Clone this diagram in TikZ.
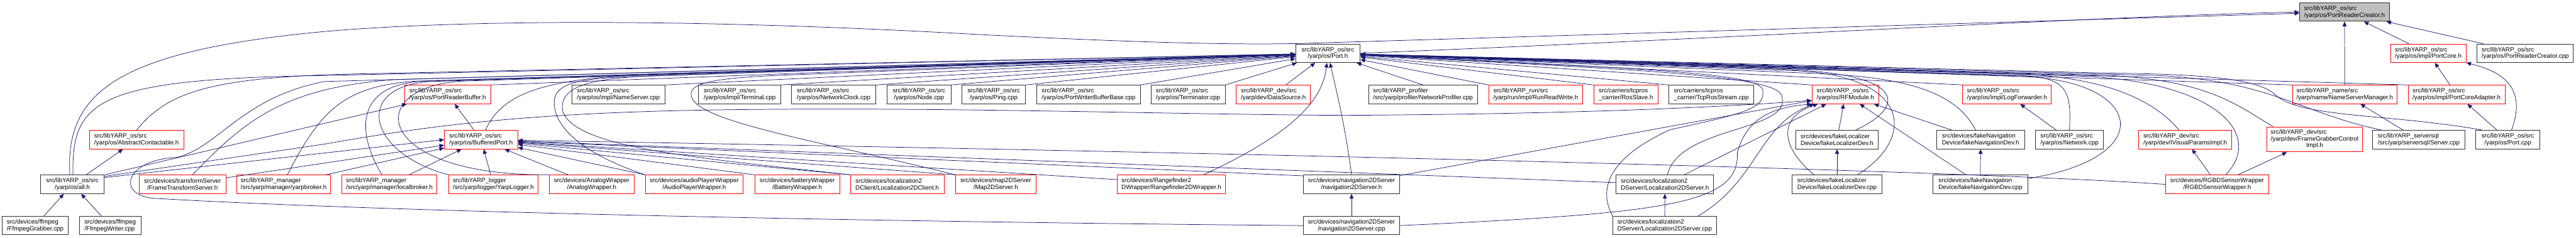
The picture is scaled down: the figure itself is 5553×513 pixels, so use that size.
\documentclass[tikz,border=0pt]{standalone}
\usepackage{fontspec}
\setmainfont{Liberation Sans}
\usepackage{tikz}
\usetikzlibrary{arrows.meta}
\definecolor{edgeblue}{RGB}{25,25,112}
\definecolor{boxred}{RGB}{255,0,0}
\definecolor{boxgrey}{RGB}{191,191,191}
\definecolor{boxdark}{RGB}{48,48,48}

\begin{document}
\begin{tikzpicture}[x=0.75pt, y=-0.75pt, >={Triangle[length=7.5pt,width=6.5pt]},
    file/.style={draw, rectangle, inner sep=0pt, line width=1pt,
          minimum height=30pt, minimum width=#1*0.75pt,
          font=\fontsize{10}{10.8}\selectfont},
    blkfile/.style={file=#1, draw=boxdark},
    redfile/.style={file=#1, draw=boxred},
    rootfile/.style={file=#1, draw=boxdark, fill=boxgrey},
    dep/.style={draw=edgeblue, line width=0.75pt, ->}]
  \useasboundingbox (0,0) rectangle (5553,513);

  % row 0
  \node[rootfile=194, align=left] (prch) at (5054,26) {src/libYARP\_os/src\\/yarp/os/PortReaderCreator.h};
  % row 1
  \node[blkfile=139, align=center] (porth) at (2862.5,115) {src/libYARP\_os/src\\/yarp/os/Port.h};
  \node[redfile=163, align=left] (portcoreh) at (5234.5,115) {src/libYARP\_os/src\\/yarp/os/impl/PortCore.h};
  \node[blkfile=207, align=left] (prccpp) at (5443.5,115) {src/libYARP\_os/src\\/yarp/os/PortReaderCreator.cpp};
  % row 2
  \node[redfile=186, align=left] (prbuf) at (965,204) {src/libYARP\_os/src\\/yarp/os/PortReaderBuffer.h};
  \node[blkfile=200, align=left] (nscpp) at (1333,204) {src/libYARP\_os/src\\/yarp/os/impl/NameServer.cpp};
  \node[blkfile=177, align=left] (termcpp) at (1594.5,204) {src/libYARP\_os/src\\/yarp/os/impl/Terminal.cpp};
  \node[blkfile=182, align=left] (nclock) at (1797,204) {src/libYARP\_os/src\\/yarp/os/NetworkClock.cpp};
  \node[blkfile=138, align=center] (nodecpp) at (1981,204) {src/libYARP\_os/src\\/yarp/os/Node.cpp};
  \node[blkfile=138, align=center] (pingcpp) at (2142,204) {src/libYARP\_os/src\\/yarp/os/Ping.cpp};
  \node[blkfile=223, align=left] (pwbb) at (2346.5,204) {src/libYARP\_os/src\\/yarp/os/PortWriterBufferBase.cpp};
  \node[blkfile=160, align=left] (termin) at (2561,204) {src/libYARP\_os/src\\/yarp/os/Terminator.cpp};
  \node[redfile=160, align=left] (datasrc) at (2745,204) {src/libYARP\_dev/src\\/yarp/dev/DataSource.h};
  \node[blkfile=235, align=left] (netprof) at (3067.5,204) {src/libYARP\_profiler\\/src/yarp/profiler/NetworkProfiler.cpp};
  \node[redfile=203, align=left] (runrw) at (3310.5,204) {src/libYARP\_run/src\\/yarp/run/impl/RunReadWrite.h};
  \node[redfile=138, align=left] (rosslave) at (3505,204) {src/carriers/tcpros\\\_carrier/RosSlave.h};
  \node[blkfile=184, align=left] (tcpros) at (3689,204) {src/carriers/tcpros\\\_carrier/TcpRosStream.cpp};
  \node[redfile=144, align=left] (rfmod) at (3978,204) {src/libYARP\_os/src\\/yarp/os/RFModule.h};
  \node[redfile=191, align=left] (logfwd) at (4326.5,204) {src/libYARP\_os/src\\/yarp/os/impl/LogForwarder.h};
  \node[redfile=225, align=left] (nsmgr) at (5054.5,204) {src/libYARP\_name/src\\/yarp/name/NameServerManager.h};
  \node[redfile=209, align=left] (pcadapt) at (5295.5,204) {src/libYARP\_os/src\\/yarp/os/impl/PortCoreAdapter.h};
  % row 3
  \node[redfile=203, align=left] (abscont) at (294.5,301.5) {src/libYARP\_os/src\\/yarp/os/AbstractContactable.h};
  \node[redfile=158, align=left] (bufport) at (1037,301.5) {src/libYARP\_os/src\\/yarp/os/BufferedPort.h};
  \node[blkfile=178, align=left] (flocdevh) at (3960,301.5) {src/devices/fakeLocalizer\\Device/fakeLocalizerDev.h};
  \node[blkfile=189, align=left] (fnavdevh) at (4269.5,301.5) {src/devices/fakeNavigation\\Device/fakeNavigationDev.h};
  \node[blkfile=146, align=left] (netcpp) at (4461,301.5) {src/libYARP\_os/src\\/yarp/os/Network.cpp};
  \node[redfile=201, align=left] (ivis) at (4710.5,301.5) {src/libYARP\_dev/src\\/yarp/dev/IVisualParamsImpl.h};
  \node[redfile=205, minimum height=40.5pt] (fgci) at (4989.5,301) {\begin{tabular}{@{}l@{}}src/libYARP\_dev/src\\/yarp/dev/FrameGrabberControl\\\multicolumn{1}{@{}c@{}}{Impl.h}\end{tabular}};
  \node[blkfile=198, align=left] (servercpp) at (5214,301.5) {src/libYARP\_serversql\\/src/yarp/serversql/Server.cpp};
  \node[blkfile=138, align=center] (portcpp) at (5406,301.5) {src/libYARP\_os/src\\/yarp/os/Port.cpp};
  % row 4
  \node[blkfile=138, align=center] (allh) at (156,398) {src/libYARP\_os/src\\/yarp/os/all.h};
  \node[redfile=187, align=center] (fts) at (393.5,398) {src/devices/transformServer\\/FrameTransformServer.h};
  \node[redfile=203, align=left] (yarpbroker) at (611.5,398) {src/libYARP\_manager\\/src/yarp/manager/yarpbroker.h};
  \node[redfile=205, align=left] (localbroker) at (839.5,398) {src/libYARP\_manager\\/src/yarp/manager/localbroker.h};
  \node[redfile=193, align=left] (yarplogger) at (1063.5,398) {src/libYARP\_logger\\/src/yarp/logger/YarpLogger.h};
  \node[redfile=183, align=center] (analogw) at (1275.5,398) {src/devices/AnalogWrapper\\/AnalogWrapper.h};
  \node[redfile=211, align=center] (audiow) at (1496.5,398) {src/devices/audioPlayerWrapper\\/AudioPlayerWrapper.h};
  \node[redfile=183, align=center] (batteryw) at (1718.5,398) {src/devices/batteryWrapper\\/BatteryWrapper.h};
  \node[redfile=202, align=left] (loc2dclient) at (1934,398) {src/devices/localization2\\DClient/Localization2DClient.h};
  \node[redfile=173, align=center] (map2d) at (2146.5,398) {src/devices/map2DServer\\/Map2DServer.h};
  \node[redfile=232, align=left] (rangefinder) at (2525,398) {src/devices/Rangefinder2\\DWrapper/Rangefinder2DWrapper.h};
  \node[blkfile=207, align=center] (nav2dh) at (2913.5,398) {src/devices/navigation2DServer\\/navigation2DServer.h};
  \node[blkfile=210, align=left] (loc2dserverh) at (3589,398) {src/devices/localization2\\DServer/Localization2DServer.h};
  \node[blkfile=194, align=left] (flocdevcpp) at (3960,398) {src/devices/fakeLocalizer\\Device/fakeLocalizerDev.cpp};
  \node[blkfile=204, align=left] (fnavdevcpp) at (4269,398) {src/devices/fakeNavigation\\Device/fakeNavigationDev.cpp};
  \node[redfile=223, align=center] (rgbd) at (4779.5,398) {src/devices/RGBDSensorWrapper\\/RGBDSensorWrapper.h};
  % row 5
  \node[blkfile=142, align=left] (ffgrab) at (76,487) {src/devices/ffmpeg\\/FfmpegGrabber.cpp};
  \node[blkfile=133, align=left] (ffwrite) at (237.5,487) {src/devices/ffmpeg\\/FfmpegWriter.cpp};
  \node[blkfile=207, align=center] (nav2dcpp) at (2913.5,487) {src/devices/navigation2DServer\\/navigation2DServer.cpp};
  \node[blkfile=223, align=left] (loc2dservercpp) at (3588.5,487) {src/devices/localization2\\DServer/Localization2DServer.cpp};

  % short includes
  \foreach \s/\t in {ffgrab/allh, ffwrite/allh, allh/abscont, allh.north east/prbuf,
      allh.12/bufport.west, fts/bufport, yarpbroker/bufport, localbroker/bufport,
      yarplogger/bufport, analogw/bufport, audiow.north west/bufport,
      batteryw.north west/bufport, loc2dclient.north west/bufport,
      map2d.north west/bufport, rangefinder.175/bufport, nav2dh.170/bufport,
      loc2dserverh.178/bufport, bufport/prbuf,
      prbuf.north east/porth, nscpp.north east/porth, termcpp.north east/porth,
      nclock.north east/porth, nodecpp.north east/porth, pingcpp.north east/porth,
      pwbb.north east/porth, termin.north east/porth, netprof.north/porth,
      runrw.north west/porth, rosslave.north west/porth, tcpros.north west/porth,
      rfmod.north west/porth, logfwd.north west/porth, nsmgr.north west/porth,
      pcadapt.north west/porth,
      nsmgr/prch, portcoreh/prch, prccpp/prch, pcadapt/portcoreh, portcpp/pcadapt,
      servercpp/nsmgr, flocdevh/rfmod, fnavdevh/rfmod, fnavdevcpp/rfmod,
      loc2dserverh/rfmod, nav2dh/rfmod, netcpp/logfwd, rgbd/ivis, rgbd/fgci,
      flocdevcpp/flocdevh, fnavdevcpp/fnavdevh, nav2dcpp/nav2dh,
      loc2dservercpp/loc2dserverh}
    \draw[dep] (\s) -- (\t);

  % long ones into PortReaderCreator.h
  \draw[dep] (porth.east) .. controls (3800,80) and (4500,36) .. (prch.west);
  \draw[dep] ([xshift=-4pt]allh.north) .. controls (140,200) and (250,110) .. (700,68)
    .. controls (1000,42) and (1500,40) .. (2100,74) .. controls (2450,92) and (2650,97) .. (2800,94)
    -- ([yshift=-2pt]prch.west);

  % into Port.h from the left
  \draw[dep] ([xshift=1pt]allh.north) .. controls (155,220) and (200,170) .. (700,163) -- (porth);
  \draw[dep] (abscont.north) .. controls (360,200) and (450,168) .. (750,160) -- (porth);
  \draw[dep] ([xshift=16pt]fts.north) .. controls (520,270) and (600,190) .. (850,172) -- (porth);
  \draw[dep] ([xshift=6pt]yarpbroker.north) .. controls (690,240) and (740,185) .. (900,175) -- (porth);
  \draw[dep] ([xshift=-12pt]localbroker.north) .. controls (770,290) and (760,180) .. (920,175) -- (porth);
  \draw[dep] (yarplogger.north west) .. controls (790,330) and (760,185) .. (930,176) -- (porth);
  \draw[dep] (analogw.north west) .. controls (800,380) and (780,185) .. (1000,175) -- (porth);
  \draw[dep] (audiow.north west) .. controls (1250,330) and (1190,270) .. (1195,215)
    .. controls (1200,180) and (1250,170) .. (1350,166) -- (porth);
  \draw[dep] (loc2dclient.north west) .. controls (1500,340) and (1240,320) .. (1213,240)
    .. controls (1205,195) and (1250,170) .. (1400,164) -- (porth);
  \draw[dep] (map2d.north west) .. controls (1750,300) and (1480,260) .. (1490,200)
    .. controls (1495,175) and (1560,166) .. (1750,160) -- (porth);
  \draw[dep] ([xshift=7pt]bufport.north) .. controls (1080,210) and (1150,170) .. (1400,161) -- (porth);
  \draw[dep] (nav2dcpp.west) .. controls (1800,478) and (800,456) .. (330,428)
    .. controls (250,420) and (270,345) .. (380,340) .. controls (470,320) and (520,210) .. (700,176) -- (porth);
  \draw[dep] ([xshift=52pt]rangefinder.north) .. controls (2760,300) and (2850,230) .. (porth);
  \draw[dep] ([xshift=20pt]datasrc.north) -- (porth);
  \draw[dep] (nav2dh.north) .. controls (2898,260) and (2878,185) .. (porth);

  % into Port.h from the right
  \draw[dep] ([xshift=4pt]loc2dserverh.north) .. controls (3620,270) and (3870,285) .. (3840,205)
    .. controls (3820,160) and (3500,150) .. (porth);
  \draw[dep] (loc2dservercpp.north west) .. controls (3440,400) and (3480,335) .. (3600,280)
    .. controls (3760,245) and (3805,235) .. (3800,195) .. controls (3795,160) and (3600,150) .. (porth);
  \draw[dep] ([xshift=30pt]flocdevh.north) .. controls (4110,230) and (4110,160) .. (3850,150) -- (porth);
  \draw[dep] ([xshift=33pt]flocdevcpp.north) .. controls (4130,300) and (4125,158) .. (3850,152) -- (porth);
  \draw[dep] ([xshift=-8pt]fnavdevh.north) .. controls (4215,195) and (4100,165) .. (3900,158) -- (porth);
  \draw[dep] (netcpp.north) .. controls (4465,200) and (4460,165) .. (4350,163) -- (porth);
  \draw[dep] (fnavdevcpp.7) .. controls (4660,340) and (4620,170) .. (4350,165) -- (porth);
  \draw[dep] ([xshift=-10pt]ivis.north) .. controls (4630,200) and (4500,160) .. (4300,158) -- (porth);
  \draw[dep] ([xshift=14pt]rgbd.north) .. controls (4880,290) and (4780,180) .. (4500,165) -- (porth);
  \draw[dep] ([xshift=10pt]fgci.north west) .. controls (4820,225) and (4760,175) .. (4550,163) -- (porth);
  \draw[dep] ([xshift=15pt]servercpp.north west) .. controls (4960,245) and (4900,175) .. (4650,163) -- (porth);
  \draw[dep] ([xshift=11pt]portcpp.north west) .. controls (5150,245) and (4960,255) .. (4905,205)
    .. controls (4870,170) and (4750,160) .. (4550,158) -- (porth);

  % RFModule.h, BufferedPort.h, PortCore.h
  \draw[dep] (allh.14) -- (700,311) .. controls (900,276) and (1100,246) .. (1500,238)
    .. controls (2000,229) and (2500,247) .. (2900,249) .. controls (3400,246) and (3700,232) .. (rfmod.190);
  \draw[dep] (nav2dcpp.east) .. controls (3600,460) and (3750,440) .. (3745,330)
    .. controls (3765,255) and (3820,232) .. (rfmod.south west);
  \draw[dep] ([xshift=54pt]loc2dservercpp.north) .. controls (3790,390) and (3790,270) .. ([xshift=4pt]rfmod.south west);
  \draw[dep] ([xshift=-37pt]flocdevcpp.north) .. controls (3830,310) and (3840,250) .. ([xshift=10pt]rfmod.south west);
  \draw[dep] (rgbd.west) .. controls (4300,372) and (3000,335) .. (bufport);
  \draw[dep] ([xshift=6pt]portcpp.north) .. controls (5440,210) and (5420,160) .. (portcoreh.south east);
\end{tikzpicture}
\end{document}
